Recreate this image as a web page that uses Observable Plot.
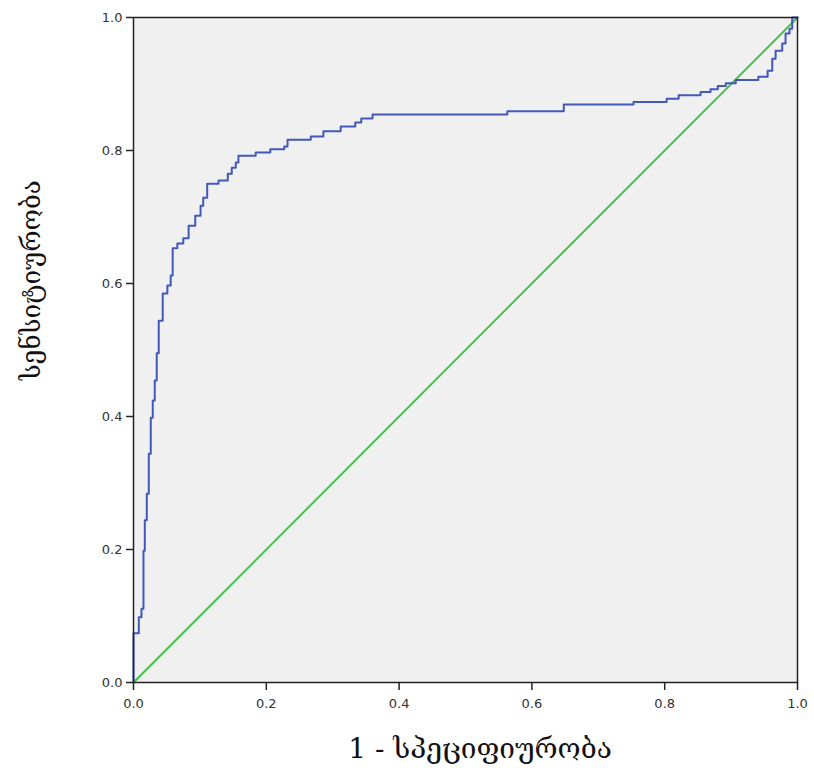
<!DOCTYPE html>
<html>
<head>
<meta charset="utf-8">
<script src="https://cdn.jsdelivr.net/npm/d3@7"></script>
<script src="https://cdn.jsdelivr.net/npm/@observablehq/plot@0.6"></script>
<style>
  html, body { margin: 0; padding: 0; background: white; }
</style>
</head>
<body>
<div id="chart"></div>
<script>
// ROC curve vertices (1 - specificity, sensitivity)
const fpr = [0,0,0.008,0.008,0.012,0.012,0.015,0.015,0.017,0.017,0.020,0.020,0.023,0.023,0.026,0.026,0.029,0.029,0.032,0.032,0.035,0.035,0.038,0.038,0.044,0.044,0.051,0.051,0.056,0.056,0.059,0.059,0.066,0.066,0.075,0.075,0.083,0.083,0.093,0.093,0.101,0.101,0.105,0.105,0.111,0.111,0.128,0.128,0.142,0.142,0.148,0.148,0.154,0.154,0.158,0.158,0.184,0.184,0.206,0.206,0.227,0.227,0.232,0.232,0.267,0.267,0.286,0.286,0.312,0.312,0.334,0.334,0.343,0.343,0.360,0.360,0.563,0.563,0.648,0.648,0.753,0.753,0.803,0.803,0.821,0.821,0.854,0.854,0.869,0.869,0.880,0.880,0.892,0.892,0.907,0.907,0.941,0.941,0.955,0.955,0.962,0.962,0.967,0.967,0.977,0.977,0.982,0.982,0.988,0.988,0.992,0.992,1];
const tpr = [0,0.074,0.074,0.098,0.098,0.111,0.111,0.198,0.198,0.244,0.244,0.284,0.284,0.344,0.344,0.398,0.398,0.424,0.424,0.454,0.454,0.495,0.495,0.544,0.544,0.585,0.585,0.597,0.597,0.612,0.612,0.653,0.653,0.660,0.660,0.668,0.668,0.687,0.687,0.702,0.702,0.717,0.717,0.729,0.729,0.750,0.750,0.755,0.755,0.765,0.765,0.774,0.774,0.782,0.782,0.792,0.792,0.797,0.797,0.802,0.802,0.806,0.806,0.816,0.816,0.821,0.821,0.829,0.829,0.836,0.836,0.842,0.842,0.848,0.848,0.854,0.854,0.859,0.859,0.869,0.869,0.873,0.873,0.878,0.878,0.883,0.883,0.888,0.888,0.892,0.892,0.897,0.897,0.901,0.901,0.906,0.906,0.911,0.911,0.920,0.920,0.938,0.938,0.950,0.950,0.961,0.961,0.976,0.976,0.983,0.983,1,1];
const refX = [0, 1];
const refY = [0, 1];
const tickValues = [0, 0.2, 0.4, 0.6, 0.8, 1.0];
const xTitle = "1 - სპეციფიურობა";
const yTitle = "სენსიტიურობა";

const roc = fpr.map((x, i) => ({x, y: tpr[i]}));
const diag = refX.map((x, i) => ({x, y: refY[i]}));

const chart = Plot.plot({
  width: 814,
  height: 774,
  marginLeft: 133,
  marginRight: 17,
  marginTop: 17,
  marginBottom: 92,
  x: {domain: [0, 1]},
  y: {domain: [0, 1]},
  style: {fontFamily: "DejaVu Sans", fontSize: "13px", color: "#333", background: "white", overflow: "visible"},
  marks: [
    Plot.frame({fill: "#f0f0f0", stroke: null}),
    Plot.line(diag, {x: "x", y: "y", stroke: "#45c04c", strokeWidth: 2}),
    Plot.line(roc, {x: "x", y: "y", stroke: "#4258bb", strokeWidth: 2, curve: "linear"}),
    Plot.frame({stroke: "#222", strokeWidth: 1.5}),
    Plot.axisX({ticks: tickValues, tickFormat: d3.format(".1f"), tickSize: 8, tickPadding: 8, label: null, stroke: "#222", strokeWidth: 1.5}),
    Plot.axisY({ticks: tickValues, tickFormat: d3.format(".1f"), tickSize: 7, tickPadding: 4, label: null, stroke: "#222", strokeWidth: 1.5})
  ]
});

const svg = d3.select(chart);
svg.append("text")
  .attr("x", 480).attr("y", 758)
  .attr("text-anchor", "middle")
  .attr("font-family", "DejaVu Serif, DejaVu Sans")
  .attr("font-size", 28)
  .attr("fill", "#111")
  .text(xTitle);
svg.append("text")
  .attr("transform", "translate(40,280) rotate(-90)")
  .attr("text-anchor", "middle")
  .attr("font-family", "DejaVu Serif, DejaVu Sans")
  .attr("font-size", 26)
  .attr("fill", "#111")
  .text(yTitle);

document.getElementById("chart").appendChild(chart);
</script>
</body>
</html>
